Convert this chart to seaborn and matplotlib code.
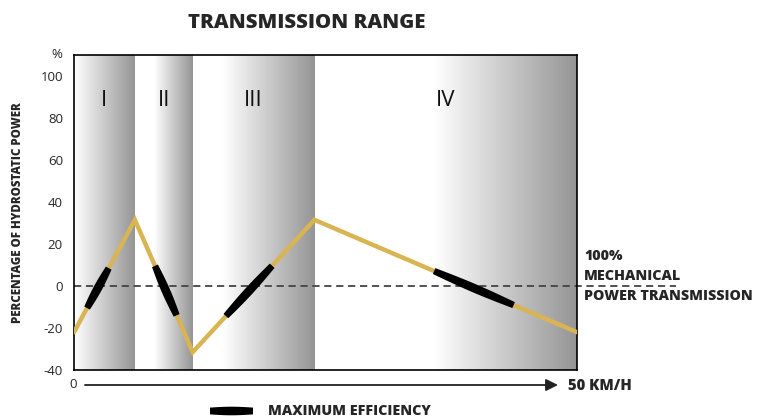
import numpy as np
import pandas as pd
import matplotlib.pyplot as plt
import seaborn as sb
from matplotlib.colors import LinearSegmentedColormap
from matplotlib.patches import Polygon

# speed (km/h) vs share of hydrostatic power (%)
speed = [0, 6.05, 11.8, 23.9, 50]
hydro_power = [-22, 31.5, -31.5, 31.5, -22]

# transmission ranges: start, gradient start, end (km/h)
range_names = ['I', 'II', 'III', 'IV']
range_start = [0, 6.05, 11.8, 23.9]
range_shade_start = [0, 8.0, 14.8, 35.8]
range_end = [6.05, 11.8, 23.9, 50]

# maximum efficiency stretches (km/h)
eff_start = [1.3, 8.05, 15.1, 35.8]
eff_end = [3.45, 10.2, 19.7, 43.7]

yticks = [-40, -20, 0, 20, 40, 60, 80, 100]

gold = '#d9b452'


def lens(p0, p1, w_end=3.2, w_mid=4.3, n=40):
    # tapered stroke between two points given in pixels
    p0, p1 = np.asarray(p0, float), np.asarray(p1, float)
    d = p1 - p0
    d /= np.hypot(*d)
    nrm = np.array([-d[1], d[0]])
    t = np.linspace(0, 1, n)
    w = w_end + (w_mid - w_end) * np.sin(np.pi * t)
    c = p0 + (p1 - p0) * t[:, None]
    top = c + nrm * w[:, None]
    bot = c - nrm * w[:, None]
    return np.vstack([top, bot[::-1]])


sb.set_style('white')
plt.rcParams['font.family'] = ['Open Sans', 'DejaVu Sans']

fig = plt.figure(figsize=(7.63, 4.17), dpi=100)
ax = fig.add_axes([74 / 763, 47 / 417, 503 / 763, 315 / 417])
ax.set_xlim(0, 50)
ax.set_ylim(-40, 110)

shade = LinearSegmentedColormap.from_list('shade', ['#ffffff', '#959595'])
grad = np.linspace(0, 1, 256).reshape(1, -1)
for s, g, e in zip(range_start, range_shade_start, range_end):
    ax.imshow(grad, cmap=shade, extent=(g, e, -40, 110), aspect='auto', zorder=0)

for name, s, e in zip(range_names, range_start, range_end):
    ax.text((s + e) / 2, 88.5, name, ha='center', va='center', fontsize=16,
            color='#111111')

ax.plot([0, 59.8], [0, 0], ls=(0, (4, 2.6)), color='#444444', lw=1.3,
        clip_on=False, zorder=2)

df = pd.DataFrame({'speed': speed, 'power': hydro_power})
sb.lineplot(data=df, x='speed', y='power', color=gold, lw=3.2, ax=ax,
            zorder=3, solid_capstyle='round', solid_joinstyle='miter')

ax.set_xlim(0, 50)
ax.set_ylim(-40, 110)

# black tapered stretches of maximum efficiency
for s, e in zip(eff_start, eff_end):
    xs = np.array([s, e])
    ys = np.interp(xs, speed, hydro_power)
    pts = ax.transData.transform(np.column_stack([xs, ys]))
    poly = lens(pts[0], pts[1])
    ax.add_patch(Polygon(ax.transData.inverted().transform(poly), closed=True,
                         facecolor='black', edgecolor='none', zorder=4))

ax.set_yticks(yticks)
ax.set_yticklabels([str(t) for t in yticks], fontsize=9.5)
ax.set_xticks([])
ax.tick_params(axis='y', length=0, pad=8)
ax.set_xlabel('')
ax.set_ylabel('')
for sp in ax.spines.values():
    sp.set_color('black')
    sp.set_linewidth(1.2)

ax.text(-1.2, 110, '%', ha='right', va='center', fontsize=9.5, clip_on=False)

fig.text(18 / 763, 1 - 213 / 417, 'PERCENTAGE OF HYDROSTATIC POWER', rotation=90,
         ha='center', va='center', fontsize=8.3, fontweight='heavy')

fig.text(307 / 763, 1 - 23 / 417, 'TRANSMISSION RANGE', ha='center', va='center',
         fontsize=14.7, fontweight='heavy')

for i, line in enumerate(['100%', 'MECHANICAL', 'POWER TRANSMISSION']):
    fig.text(584 / 763, 1 - (256 + 20 * i) / 417, line, ha='left', va='center',
             fontsize=10.3, fontweight='heavy')

# speed arrow below the plot
ax.annotate('', xy=(558 / 763, 1 - 385 / 417), xytext=(85 / 763, 1 - 385 / 417),
            xycoords='figure fraction', textcoords='figure fraction',
            arrowprops=dict(arrowstyle='-|>', color='#222222', lw=1.3,
                            mutation_scale=18, shrinkA=0, shrinkB=0))
fig.text(73 / 763, 1 - 385 / 417, '0', ha='center', va='center', fontsize=9.5)
fig.text(568 / 763, 1 - 386 / 417, '50 KM/H', ha='left', va='center',
         fontsize=10.7, fontweight='heavy')

# legend
ly = 417 - 411
leg = lens((210, ly), (253, ly), w_end=3.4, w_mid=4.3)
fig.add_artist(Polygon(leg / [763, 417], closed=True, facecolor='black',
                       edgecolor='none', transform=fig.transFigure))
fig.text(268 / 763, ly / 417, 'MAXIMUM EFFICIENCY', ha='left', va='center',
         fontsize=10.3, fontweight='heavy')

fig.savefig('out.png', dpi=100)
